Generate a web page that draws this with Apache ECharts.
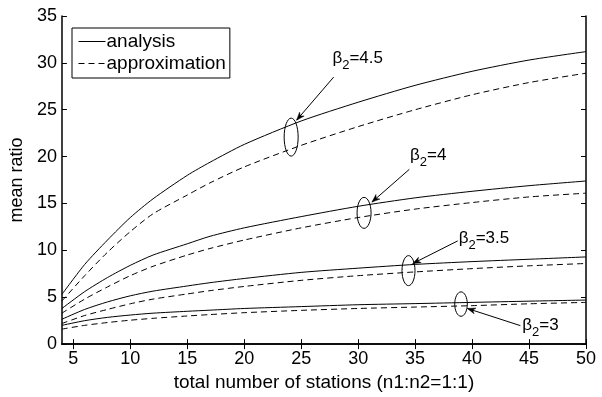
<!DOCTYPE html>
<html>
<head>
<meta charset="utf-8">
<script src="https://cdn.jsdelivr.net/npm/echarts@6/dist/echarts.min.js"></script>
<style>html,body{margin:0;padding:0;background:#fff}#c{width:602px;height:397px}</style>
</head>
<body>
<div id="c"></div>
<script>
// ---- data ----
const xValues = [4, 6, 8, 10, 12, 15, 17, 20, 25, 30, 35, 40, 45, 50];
const analysis45 = [5.3, 8.5, 11.1, 13.5, 15.5, 18.0, 19.4, 21.3, 23.8, 25.8, 27.6, 29.1, 30.3, 31.2];
const approx45   = [4.6, 7.3, 9.8, 12.0, 13.9, 15.9, 17.2, 18.9, 21.2, 23.2, 25.0, 26.6, 27.9, 28.9];
const analysis4  = [3.8, 5.6, 7.1, 8.4, 9.5, 10.7, 11.5, 12.4, 13.6, 14.7, 15.6, 16.3, 16.9, 17.4];
const approx4    = [3.3, 4.8, 6.1, 7.3, 8.3, 9.5, 10.2, 11.1, 12.4, 13.5, 14.4, 15.1, 15.7, 16.1];
const analysis35 = [2.65, 3.7, 4.5, 5.15, 5.65, 6.2, 6.55, 7.0, 7.65, 8.1, 8.5, 8.8, 9.05, 9.3];
const approx35   = [2.2, 3.05, 3.7, 4.3, 4.8, 5.35, 5.7, 6.15, 6.8, 7.3, 7.7, 8.05, 8.35, 8.6];
const analysis3  = [2.0, 2.5, 2.85, 3.1, 3.3, 3.5, 3.62, 3.8, 4.0, 4.2, 4.32, 4.45, 4.58, 4.7];
const approx3    = [1.6, 2.0, 2.3, 2.55, 2.75, 3.0, 3.15, 3.35, 3.6, 3.8, 3.95, 4.1, 4.3, 4.45];
const xTickLabels = [5, 10, 15, 20, 25, 30, 35, 40, 45, 50];
const yTickLabels = [0, 5, 10, 15, 20, 25, 30, 35];
const betaValues = ['4.5', '4', '3.5', '3'];
// annotation anchors (data coordinates)
const ellipseCenters = [[24.12, 22.08], [30.52, 14.0], [34.42, 7.84], [39.03, 4.27]];
const arrowStarts = [[27.85, 28.48], [34.49, 18.64], [38.74, 11.01], [44.24, 1.97]];
const arrowTips = [[24.6, 23.89], [31.21, 15.15], [34.79, 8.59], [39.59, 3.80]];
const labelAnchors = [[27.74, 30.24], [34.56, 19.88], [38.82, 10.98], [44.41, 1.76]];

// ---- rendering ----
const FONT = '"Liberation Sans", Arial, Helvetica, sans-serif';
const ellipseRadii = [[7, 19], [7, 15.5], [6.5, 15], [6.3, 12.2]];

function mkSeries(name, vals, dashed) {
  return {
    type: 'line', name: name,
    data: xValues.map((x, i) => [x, vals[i]]),
    symbol: 'none', smooth: 0.25,
    lineStyle: { color: '#000', width: 1, type: dashed ? [6, 4] : 'solid' },
    itemStyle: { color: '#000' },
    silent: true
  };
}

const axisLineStyle = { show: true, lineStyle: { color: '#000', width: 1.5 } };
const chart = echarts.init(document.getElementById('c'), null, { renderer: 'canvas' });
chart.setOption({
  animation: false,
  backgroundColor: '#fff',
  grid: { left: 59, right: 16, top: 16, bottom: 43, containLabel: false },
  legend: {
    left: 72, top: 28, orient: 'vertical',
    padding: [4, 4, 5, 6], itemGap: 3, itemWidth: 27, itemHeight: 14,
    borderColor: '#000', borderWidth: 1, backgroundColor: '#fff',
    selectedMode: false,
    data: ['analysis', 'approximation'],
    itemStyle: { color: 'rgba(0,0,0,0)', borderWidth: 0, opacity: 0 },
    lineStyle: { width: 1 },
    textStyle: { fontSize: 19, fontFamily: FONT, color: '#000', padding: [0, 0, 0, -4] }
  },
  xAxis: [{
    type: 'value', min: 4, max: 50, position: 'bottom',
    axisLine: axisLineStyle,
    axisTick: { show: true, inside: true, length: 5, customValues: xTickLabels, lineStyle: { color: '#000' } },
    axisLabel: { show: true, customValues: xTickLabels, fontSize: 18, fontFamily: FONT, color: '#000', margin: 6 },
    splitLine: { show: false },
    name: 'total number of stations (n1:n2=1:1)', nameLocation: 'middle', nameGap: 22,
    nameTextStyle: { fontSize: 19, fontFamily: FONT, color: '#000' }
  }, {
    type: 'value', min: 4, max: 50, position: 'top',
    axisLine: axisLineStyle,
    axisTick: { show: true, inside: true, length: 5, customValues: xTickLabels, lineStyle: { color: '#000' } },
    axisLabel: { show: false }, splitLine: { show: false }
  }],
  yAxis: [{
    type: 'value', min: 0, max: 35, interval: 5, position: 'left',
    axisLine: axisLineStyle,
    axisTick: { show: true, inside: true, length: 5, lineStyle: { color: '#000' } },
    axisLabel: { show: true, fontSize: 18, fontFamily: FONT, color: '#000', margin: 5 },
    splitLine: { show: false },
    name: 'mean ratio', nameLocation: 'middle', nameGap: 28,
    nameTextStyle: { fontSize: 18, fontFamily: FONT, color: '#000' }
  }, {
    type: 'value', min: 0, max: 35, interval: 5, position: 'right',
    axisLine: axisLineStyle,
    axisTick: { show: true, inside: true, length: 5, lineStyle: { color: '#000' } },
    axisLabel: { show: false }, splitLine: { show: false }
  }],
  series: [
    mkSeries('analysis', analysis45, false),
    mkSeries('approximation', approx45, true),
    mkSeries('analysis', analysis4, false),
    mkSeries('approximation', approx4, true),
    mkSeries('analysis', analysis35, false),
    mkSeries('approximation', approx35, true),
    mkSeries('analysis', analysis3, false),
    mkSeries('approximation', approx3, true)
  ]
});

function px(p) { return chart.convertToPixel({ xAxisIndex: 0, yAxisIndex: 0 }, p); }
const graphics = [];
betaValues.forEach((b, i) => {
  const c = px(ellipseCenters[i]);
  graphics.push({ type: 'ellipse', shape: { cx: c[0], cy: c[1], rx: ellipseRadii[i][0], ry: ellipseRadii[i][1] },
    style: { fill: 'none', stroke: '#000', lineWidth: 1 }, z: 10 });
  const s = px(arrowStarts[i]), t = px(arrowTips[i]);
  graphics.push({ type: 'line', shape: { x1: s[0], y1: s[1], x2: t[0], y2: t[1] },
    style: { stroke: '#000', lineWidth: 1 }, z: 10 });
  const dx = t[0] - s[0], dy = t[1] - s[1], L = Math.hypot(dx, dy);
  const ux = dx / L, uy = dy / L, nx = -uy, ny = ux;
  const hl = 8, hw = 3;
  graphics.push({ type: 'polygon', shape: { points: [
      [t[0], t[1]],
      [t[0] - ux * hl + nx * hw, t[1] - uy * hl + ny * hw],
      [t[0] - ux * hl * 0.7, t[1] - uy * hl * 0.7],
      [t[0] - ux * hl - nx * hw, t[1] - uy * hl - ny * hw]
    ] }, style: { fill: '#000', stroke: '#000', lineWidth: 0.5 }, z: 10 });
  const a = px(labelAnchors[i]);
  graphics.push({ type: 'text', x: a[0], y: a[1], z: 11,
    style: {
      text: '{m|β}{s|2}{m|=' + b + '}',
      verticalAlign: 'middle', align: 'left',
      rich: {
        m: { fontSize: 17, fontFamily: FONT, fill: '#000', lineHeight: 22, verticalAlign: 'top' },
        s: { fontSize: 13, fontFamily: FONT, fill: '#000', lineHeight: 9, verticalAlign: 'bottom' }
      }
    } });
});
chart.setOption({ graphic: graphics });
</script>
</body>
</html>
